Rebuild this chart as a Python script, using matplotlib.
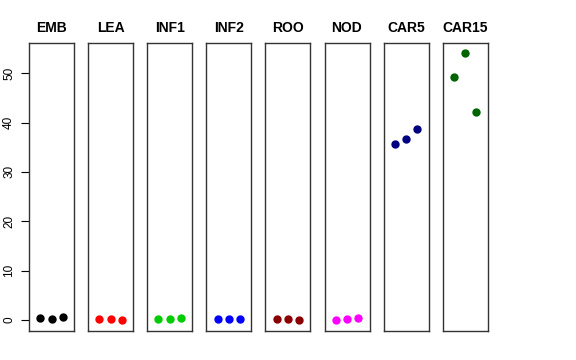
import matplotlib
matplotlib.use("Agg")
import matplotlib.pyplot as plt

plt.rcParams["font.family"] = ["Liberation Sans", "DejaVu Sans"]

# Datos
GRUPOS = ["EMB", "LEA", "INF1", "INF2", "ROO", "NOD", "CAR5", "CAR15"]
COLORES = ["black", "red", "#00CD00", "blue", "#8B0000", "magenta", "#000080", "#006400"]
X = [1, 2, 3]
EMB = [0.35, 0.3, 0.55]
LEA = [0.15, 0.3, -0.05]
INF1 = [0.27, 0.27, 0.4]
INF2 = [0.2, 0.2, 0.2]
ROO = [0.13, 0.13, 0.07]
NOD = [0.0, 0.13, 0.47]
CAR5 = [35.7, 36.7, 38.6]
CAR15 = [49.3, 54.1, 42.1]
VALORES = [EMB, LEA, INF1, INF2, ROO, NOD, CAR5, CAR15]

fig = plt.figure(figsize=(5.76, 3.6), dpi=100)
W, H = 576.0, 360.0
for i in range(len(GRUPOS)):
    izq = 29 + 59.1 * i
    ax = fig.add_axes([izq / W, 29 / H, 45 / W, 288 / H])
    ax.plot(X, VALORES[i], "o", color=COLORES[i], markersize=5)
    ax.set_xlim(0, 4)
    ax.set_ylim(-2.2, 56.1)
    ax.set_xticks([])
    for s in ax.spines.values():
        s.set_color("#333333")
        s.set_linewidth(1.0)
    ax.set_title(GRUPOS[i], fontsize=10, fontweight="bold", pad=8)
    if i == 0:
        ax.set_yticks([0, 10, 20, 30, 40, 50])
        ax.tick_params(axis="y", length=6, labelsize=8.5, pad=4)
        for t in ax.get_yticklabels():
            t.set_rotation(90)
            t.set_va("center")
    else:
        ax.set_yticks([])

fig.savefig("out.png", dpi=100)
